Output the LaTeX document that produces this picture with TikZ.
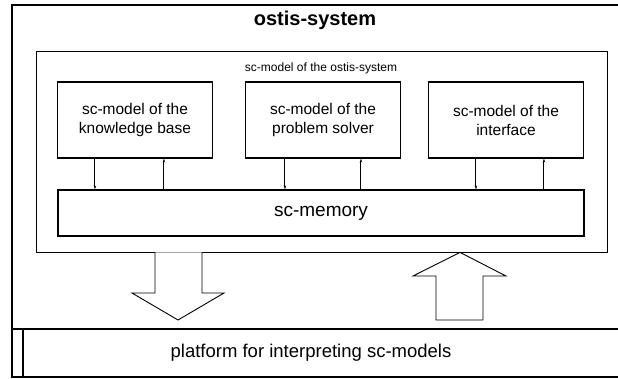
\documentclass[tikz,border=0pt]{standalone}
\usepackage{fontspec}
\setmainfont{Liberation Sans}
\usetikzlibrary{arrows.meta}
\begin{document}
\begin{tikzpicture}[x=1pt,y=-1pt,
        part/.style={draw,line width=1.1pt,minimum width=155pt,minimum height=76pt,inner sep=0pt,align=center,font=\fontsize{15.5}{19}\selectfont},
        link/.style={line width=1pt,-{Stealth[length=4pt,width=2.5pt]}},
        fat/.style={draw,line width=0.9pt,fill=white}]
    \useasboundingbox (0,0) rectangle (618,378);
    % ostis-system and the platform under it
    \draw [line width=1.4pt] (12,5) rectangle (640,377);
    \draw [line width=1.4pt] (12,329) -- (640,329);
    \draw [line width=1.4pt] (23,329) -- (23,377);
    \node (title) at (315,20) {\fontsize{20}{24}\selectfont\bfseries ostis-system};
    \node (plat) at (311,353) {\fontsize{18.5}{22}\selectfont platform for interpreting sc-models};
    % sc-model of the ostis-system
    \node [draw,line width=0.8pt,minimum width=571pt,minimum height=201pt,inner sep=0pt] (model) at (321.5,151.5) {};
    \node [font=\fontsize{12}{14}\selectfont] (mlabel) at (321,68) {sc-model of the ostis-system};
    \node [part] (kb) at (135,120) {sc-model of the\\knowledge base};
    \node [part] (ps) at (323,120) {sc-model of the\\problem solver};
    \node [part] (ui) at (506,120) {sc-model of the\\interface};
    \node [part,minimum width=526pt,minimum height=46pt,font=\fontsize{19}{22}\selectfont] (mem) at (321,213) {sc-memory};
    \foreach \b/\d/\u in {kb/38/107, ps/40/116, ui/48/116} {
        \draw [link] ([xshift=\d pt]\b.south west) -- ([xshift=\d pt]\b.south west |- mem.north);
        \draw [link] ([xshift=\u pt]\b.south west |- mem.north) -- ([xshift=\u pt]\b.south west);
    }
    % exchange with the platform
    \draw [fat] (model.south -| 155,0) -- (155,293) -- (132,293) -- (178,320) -- (224,293) -- (202,293) -- (model.south -| 202,0);
    \draw [fat] (436,320) -- (436,276) -- (413,276) -- (model.south -| 460,0) -- (506,276) -- (483,276) -- (483,320) -- cycle;
\end{tikzpicture}
\end{document}
